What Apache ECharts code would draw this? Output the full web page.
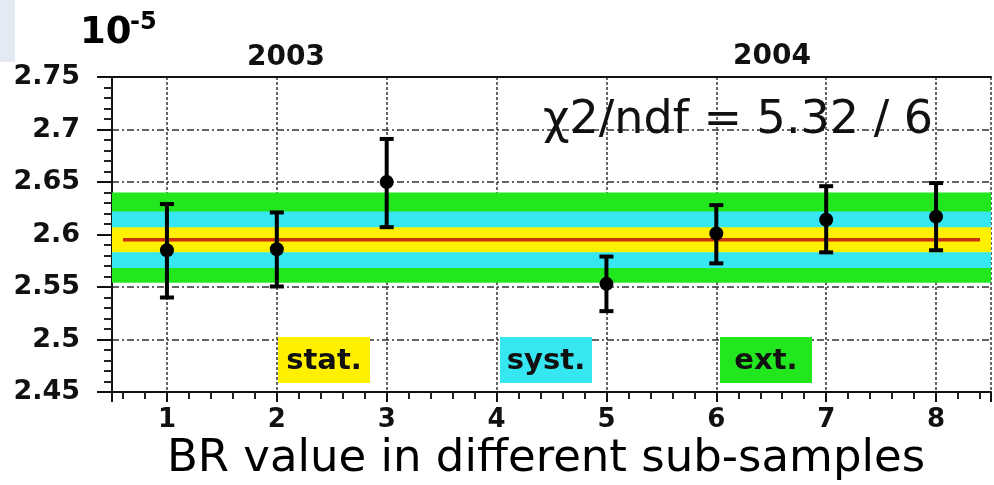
<!DOCTYPE html>
<html>
<head>
<meta charset="utf-8">
<script src="https://cdn.jsdelivr.net/npm/echarts@6/dist/echarts.min.js"></script>
<style>
html,body{margin:0;padding:0;background:#fff;}
#main{width:994px;height:485px;}
</style>
</head>
<body>
<div id="main"></div>
<script>
// ---- data ----
var subSamples = [1, 2, 3, 5, 6, 7, 8];
var brValues   = [2.585, 2.586, 2.650, 2.553, 2.601, 2.614, 2.617];
var errLow     = [2.540, 2.5505, 2.607, 2.527, 2.5725, 2.583, 2.585];
var errHigh    = [2.629, 2.621, 2.691, 2.579, 2.628, 2.646, 2.649];
var meanValue  = 2.595;
var meanRange  = [0.6, 8.4];
var statBand   = [2.583, 2.607];
var systBand   = [2.568, 2.622];
var extBand    = [2.554, 2.640];
var yearLabels = ['2003', '2004'];
var legendLabels = ['stat.', 'syst.', 'ext.'];
var chiText    = '\u03c72/ndf = 5.32 / 6';
var xTitle     = 'BR value in different sub-samples';

var FONT = '"DejaVu Sans", "Liberation Sans", sans-serif';
var cYellow = '#fff000', cCyan = '#36e6f0', cGreen = '#22e61e';

var chart = echarts.init(document.getElementById('main'), null, {renderer: 'canvas'});

var pts = subSamples.map(function (x, i) { return [x, brValues[i]]; });
var bars = subSamples.map(function (x, i) { return [x, errLow[i], errHigh[i]]; });

function band(range, color, z) {
  return {
    type: 'line', data: [], z: z, silent: true,
    markArea: {
      silent: true,
      itemStyle: {color: color, opacity: 1},
      data: [[{yAxis: range[0]}, {yAxis: range[1]}]]
    }
  };
}

var option = {
  animation: false,
  backgroundColor: '#fff',
  grid: {left: 112, right: -5, top: 77, bottom: 93},
  xAxis: [{
    type: 'value', min: 0.5, max: 8.5, splitNumber: 8, position: 'bottom',
    axisLine: {show: true, onZero: false, lineStyle: {color: '#111', width: 2}},
    axisTick: {show: true, inside: false, length: 10, lineStyle: {color: '#111', width: 2}},
    minorTick: {show: true, splitNumber: 5, length: 7, lineStyle: {color: '#222', width: 2}},
    axisLabel: {
      margin: 15, color: '#111', fontFamily: FONT, fontWeight: 'bold', fontSize: 26,
      formatter: function (v) { return Math.abs(v - Math.round(v)) < 1e-6 ? String(Math.round(v)) : ''; }
    },
    splitLine: {show: true, lineStyle: {color: '#333', width: 1.5, type: [3, 2]}}
  }, {
    type: 'value', min: 0.5, max: 8.5, splitNumber: 8, position: 'top',
    axisLine: {show: true, onZero: false, lineStyle: {color: '#111', width: 2}},
    axisTick: {show: false}, axisLabel: {show: false}, splitLine: {show: false}
  }],
  yAxis: {
    type: 'value', min: 2.45, max: 2.75, interval: 0.05,
    axisLine: {show: true, onZero: false, lineStyle: {color: '#111', width: 2}},
    axisTick: {show: true, inside: false, length: 15, lineStyle: {color: '#111', width: 2}},
    minorTick: {show: true, splitNumber: 5, length: 8, lineStyle: {color: '#222', width: 2}},
    axisLabel: {margin: 32, color: '#111', fontFamily: FONT, fontWeight: 'bold', fontSize: 27},
    splitLine: {show: true, lineStyle: {color: '#333', width: 1.5, type: [7, 3, 2, 3]}}
  },
  series: [
    band(extBand, cGreen, 1),
    band(systBand, cCyan, 2),
    band(statBand, cYellow, 3),
    {
      type: 'line', z: 4, silent: true, symbol: 'none',
      data: [[meanRange[0], meanValue], [meanRange[1], meanValue]],
      lineStyle: {color: '#c8300e', width: 3.5}
    },
    {
      type: 'custom', z: 5, silent: true, data: bars,
      renderItem: function (params, api) {
        var x = api.value(0);
        var lo = api.coord([x, api.value(1)]);
        var hi = api.coord([x, api.value(2)]);
        var cw = 7, st = {stroke: '#000', lineWidth: 4};
        return {type: 'group', children: [
          {type: 'line', shape: {x1: lo[0], y1: lo[1], x2: hi[0], y2: hi[1]}, style: st},
          {type: 'line', shape: {x1: lo[0] - cw, y1: lo[1], x2: lo[0] + cw, y2: lo[1]}, style: st},
          {type: 'line', shape: {x1: hi[0] - cw, y1: hi[1], x2: hi[0] + cw, y2: hi[1]}, style: st}
        ]};
      }
    },
    {
      type: 'scatter', z: 6, silent: true, data: pts,
      symbol: 'circle', symbolSize: 14,
      itemStyle: {color: '#000', opacity: 1}
    }
  ],
  graphic: [
    {type: 'rect', left: 0, top: 0, shape: {width: 15, height: 62}, style: {fill: '#e4eaf4'}, z: 10},
    {type: 'text', x: 80, y: 33, style: {text: '10', font: 'bold 37px ' + FONT, fill: '#000', align: 'left', verticalAlign: 'middle'}, z: 10},
    {type: 'text', x: 130, y: 23, style: {text: '-5', font: 'bold 24px ' + FONT, fill: '#000', align: 'left', verticalAlign: 'middle'}, z: 10},
    {type: 'text', x: 286, y: 58, style: {text: yearLabels[0], font: 'bold 28px ' + FONT, fill: '#111', align: 'center', verticalAlign: 'middle'}, z: 10},
    {type: 'text', x: 772, y: 57, style: {text: yearLabels[1], font: 'bold 28px ' + FONT, fill: '#111', align: 'center', verticalAlign: 'middle'}, z: 10},
    {type: 'text', x: 738, y: 121, style: {text: chiText, font: '46px ' + FONT, fill: '#111', align: 'center', verticalAlign: 'middle'}, z: 10},
    {type: 'rect', left: 278, top: 337, shape: {width: 92, height: 46}, style: {fill: cYellow}, z: 10},
    {type: 'rect', left: 500, top: 337, shape: {width: 92, height: 46}, style: {fill: cCyan}, z: 10},
    {type: 'rect', left: 720, top: 337, shape: {width: 92, height: 46}, style: {fill: cGreen}, z: 10},
    {type: 'text', x: 324, y: 361, style: {text: legendLabels[0], font: 'bold 29px ' + FONT, fill: '#111', align: 'center', verticalAlign: 'middle'}, z: 11},
    {type: 'text', x: 546, y: 361, style: {text: legendLabels[1], font: 'bold 29px ' + FONT, fill: '#111', align: 'center', verticalAlign: 'middle'}, z: 11},
    {type: 'text', x: 766, y: 361, style: {text: legendLabels[2], font: 'bold 29px ' + FONT, fill: '#111', align: 'center', verticalAlign: 'middle'}, z: 11},
    {type: 'text', x: 546, y: 459, style: {text: xTitle, font: '45px ' + FONT, fill: '#000', align: 'center', verticalAlign: 'middle'}, z: 10}
  ]
};
chart.setOption(option);
</script>
</body>
</html>
